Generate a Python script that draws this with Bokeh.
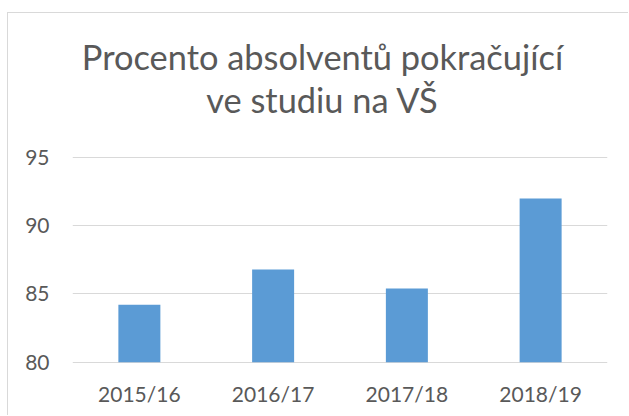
from bokeh.plotting import figure
from bokeh.models import FactorRange, FixedTicker, Label, Range1d
from bokeh.embed import file_html
from bokeh.resources import INLINE

categories = ["2015/16", "2016/17", "2017/18", "2018/19"]
values = [84.2, 86.8, 85.4, 92.0]
y_ticks = [80, 85, 90, 95]
title_lines = ["Procento absolventů pokračující", "ve studiu na VŠ"]

TEXT = "#595959"
GRID = "#d9d9d9"
BAR = "#5b9bd5"
FONT = "Lato"

# frame spans the whole height above the axis so the title can sit inside it
p = figure(x_range=FactorRange(*categories, range_padding=0), y_range=Range1d(79.9, 105.56),
           width=621, height=403, output_backend="svg", toolbar_location=None,
           min_border_left=64, min_border_right=22, min_border_top=0, min_border_bottom=53)
p.margin = (12, 0, 0, 7)
p.styles = {"border-top": "1px solid #d9d9d9", "border-left": "1px solid #d9d9d9"}

p.vbar(x=categories, top=values, bottom=80, width=0.314, color=BAR, line_color=None)

p.outline_line_color = None
p.xgrid.grid_line_color = None
p.ygrid.grid_line_color = GRID
p.ygrid.grid_line_width = 1
p.yaxis.ticker = FixedTicker(ticks=y_ticks)

for ax in (p.xaxis, p.yaxis):
    ax.axis_line_color = None
    ax.major_tick_line_color = None
    ax.minor_tick_line_color = None
    ax.major_label_text_color = TEXT
    ax.major_label_text_font = FONT
    ax.major_label_text_font_size = "21px"
p.xaxis.major_label_standoff = 11
p.yaxis.major_label_standoff = 17

for line, ypos in ((title_lines[0], 307.5), (title_lines[1], 264.5)):
    p.add_layout(Label(x=250, y=ypos, x_units="screen", y_units="screen", text=line,
                       text_align="center", text_baseline="alphabetic", text_color=TEXT,
                       text_font=FONT, text_font_size="34.4px"))

open("out.html", "w").write(file_html(p, INLINE))
